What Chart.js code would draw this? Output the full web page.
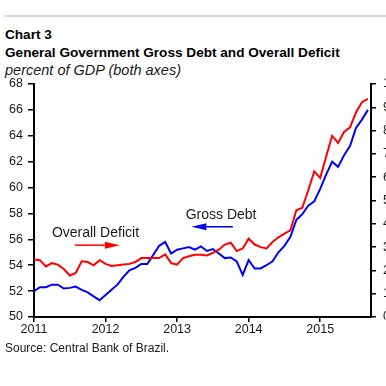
<!DOCTYPE html>
<html>
<head>
<meta charset="utf-8">
<script src="https://cdn.jsdelivr.net/npm/chart.js@4"></script>
<style>
  html, body { margin: 0; padding: 0; background: #fff; }
  body { width: 386px; height: 386px; overflow: hidden; position: relative; font-family: "Liberation Sans", Arial, sans-serif; color: #000; }
  .rule { position: absolute; left: 5px; top: 15px; width: 381px; height: 2px; background: #d6d6d6; }
  .txt { position: absolute; left: 5px; line-height: 1; white-space: nowrap; }
  #t1 { top: 28px; font-size: 13.6px; font-weight: bold; }
  #t2 { top: 46px; font-size: 13.6px; font-weight: bold; }
  #t3 { top: 62.5px; font-size: 14.5px; font-style: italic; color: #1a1a1a; }
  #src { top: 342px; font-size: 12px; color: #1a1a1a; }
  #wrap { position: absolute; left: 0; top: 0; width: 400px; height: 386px; }
</style>
</head>
<body>
<div class="rule"></div>
<div class="txt" id="t1">Chart 3</div>
<div class="txt" id="t2">General Government Gross Debt and Overall Deficit</div>
<div class="txt" id="t3">percent of GDP (both axes)</div>
<div id="wrap"><canvas id="chart" width="400" height="386"></canvas></div>
<div class="txt" id="src">Source: Central Bank of Brazil.</div>
<script>
// monthly series, Jan 2011 .. Sep 2015
const startYear = 2011;

// gross debt, % of GDP (left axis)
const grossDebt = [
  52.0, 52.3, 52.3, 52.5, 52.5, 52.2, 52.25, 52.35, 52.1, 51.9, 51.6, 51.3,
  51.7, 52.1, 52.5, 53.1, 53.6, 53.8, 54.1, 54.1, 54.8, 55.5, 55.8, 54.9,
  55.2, 55.3, 55.4, 55.2, 55.45, 55.1, 55.25, 54.9, 54.55, 54.6, 54.3, 53.25,
  54.4, 53.75, 53.75, 54.0, 54.3, 55.0, 55.5, 56.2, 57.5, 57.95, 58.6, 58.93,
  59.9, 61.0, 62.0, 61.6, 62.5, 63.2, 64.6, 65.25, 66.0
];

// overall deficit, % of GDP (right axis)
const overallDeficit = [
  2.47, 2.44, 2.17, 2.31, 2.25, 2.06, 1.78, 1.89, 2.39, 2.36, 2.22, 2.44,
  2.28, 2.19, 2.22, 2.25, 2.28, 2.36, 2.53, 2.53, 2.53, 2.53, 2.69, 2.31,
  2.25, 2.53, 2.61, 2.67, 2.67, 2.64, 2.75, 2.89, 3.11, 3.19, 2.83, 2.94,
  3.36, 3.11, 3.00, 2.94, 3.22, 3.42, 3.58, 3.72, 4.58, 4.69, 5.44, 6.25,
  5.97, 6.89, 7.78, 7.47, 7.94, 8.14, 8.78, 9.22, 9.36
];

const yearTicks = [2011, 2012, 2013, 2014, 2015];

const RED = '#ff0000';
const BLUE = '#0000ff';

function toPoints(values) {
  return values.map((v, i) => ({ x: startYear + i / 12, y: v }));
}

// in-chart labels with arrows, placed in data units (left axis)
const notes = [
  { text: 'Overall Deficit', x: 2011.25, y: 56.5, color: RED, from: 2011.57, to: 2012.2, ay: 55.55 },
  { text: 'Gross Debt', x: 2013.12, y: 57.87, color: BLUE, from: 2013.78, to: 2013.2, ay: 56.97 }
];

const notePlugin = {
  id: 'notes',
  afterDatasetsDraw(chart) {
    const ctx = chart.ctx;
    const xs = chart.scales.x, ys = chart.scales.y;
    ctx.save();
    notes.forEach(n => {
      ctx.font = '14px "Liberation Sans", Arial, sans-serif';
      ctx.fillStyle = '#1a1a1a';
      ctx.textBaseline = 'middle';
      ctx.textAlign = 'left';
      ctx.fillText(n.text, xs.getPixelForValue(n.x), ys.getPixelForValue(n.y));

      const x1 = xs.getPixelForValue(n.from);
      const x2 = xs.getPixelForValue(n.to);
      const y = ys.getPixelForValue(n.ay);
      const dir = x2 > x1 ? 1 : -1;
      const head = 15;
      ctx.strokeStyle = n.color;
      ctx.fillStyle = n.color;
      ctx.lineWidth = 1.5;
      ctx.beginPath();
      ctx.moveTo(x1, y);
      ctx.lineTo(x2 - dir * head, y);
      ctx.stroke();
      ctx.beginPath();
      ctx.moveTo(x2, y);
      ctx.lineTo(x2 - dir * head, y - 3.5);
      ctx.lineTo(x2 - dir * head, y + 3.5);
      ctx.closePath();
      ctx.fill();
    });
    ctx.restore();
  }
};

const tickFont = { family: '"Liberation Sans", Arial, sans-serif', size: 12.5 };

new Chart(document.getElementById('chart'), {
  type: 'line',
  data: {
    datasets: [
      {
        label: 'Overall Deficit',
        data: toPoints(overallDeficit),
        yAxisID: 'y1',
        borderColor: RED,
        borderWidth: 2,
        pointRadius: 0,
        tension: 0
      },
      {
        label: 'Gross Debt',
        data: toPoints(grossDebt),
        yAxisID: 'y',
        borderColor: BLUE,
        borderWidth: 2,
        pointRadius: 0,
        tension: 0
      }
    ]
  },
  options: {
    responsive: false,
    animation: false,
    layout: { padding: { top: 84, left: 0, right: 0, bottom: 49 } },
    plugins: {
      legend: { display: false },
      tooltip: { enabled: false }
    },
    scales: {
      x: {
        type: 'linear',
        min: 2011,
        max: 2015.71,
        afterBuildTicks: s => { s.ticks = yearTicks.map(v => ({ value: v })); },
        afterFit: s => { s.height = 20; },
        ticks: { font: tickFont, color: '#1a1a1a', padding: 0, maxRotation: 0, callback: v => String(v) },
        grid: { drawOnChartArea: false, tickLength: 5, color: '#000', lineWidth: 1.5 },
        border: { color: '#000', width: 2 }
      },
      y: {
        position: 'left',
        min: 50,
        max: 68,
        afterFit: s => { s.width = 34; },
        ticks: { stepSize: 2, font: tickFont, color: '#1a1a1a', padding: 5 },
        grid: { drawOnChartArea: false, tickLength: 6, color: '#000', lineWidth: 1.5 },
        border: { color: '#000', width: 2 }
      },
      y1: {
        position: 'right',
        min: 0,
        max: 10,
        afterFit: s => { s.width = 29; },
        ticks: { stepSize: 1, font: tickFont, color: '#1a1a1a', padding: 7 },
        grid: { drawOnChartArea: false, tickLength: 5, color: '#000', lineWidth: 1.5 },
        border: { color: '#000', width: 2 }
      }
    }
  },
  plugins: [notePlugin]
});
</script>
</body>
</html>
